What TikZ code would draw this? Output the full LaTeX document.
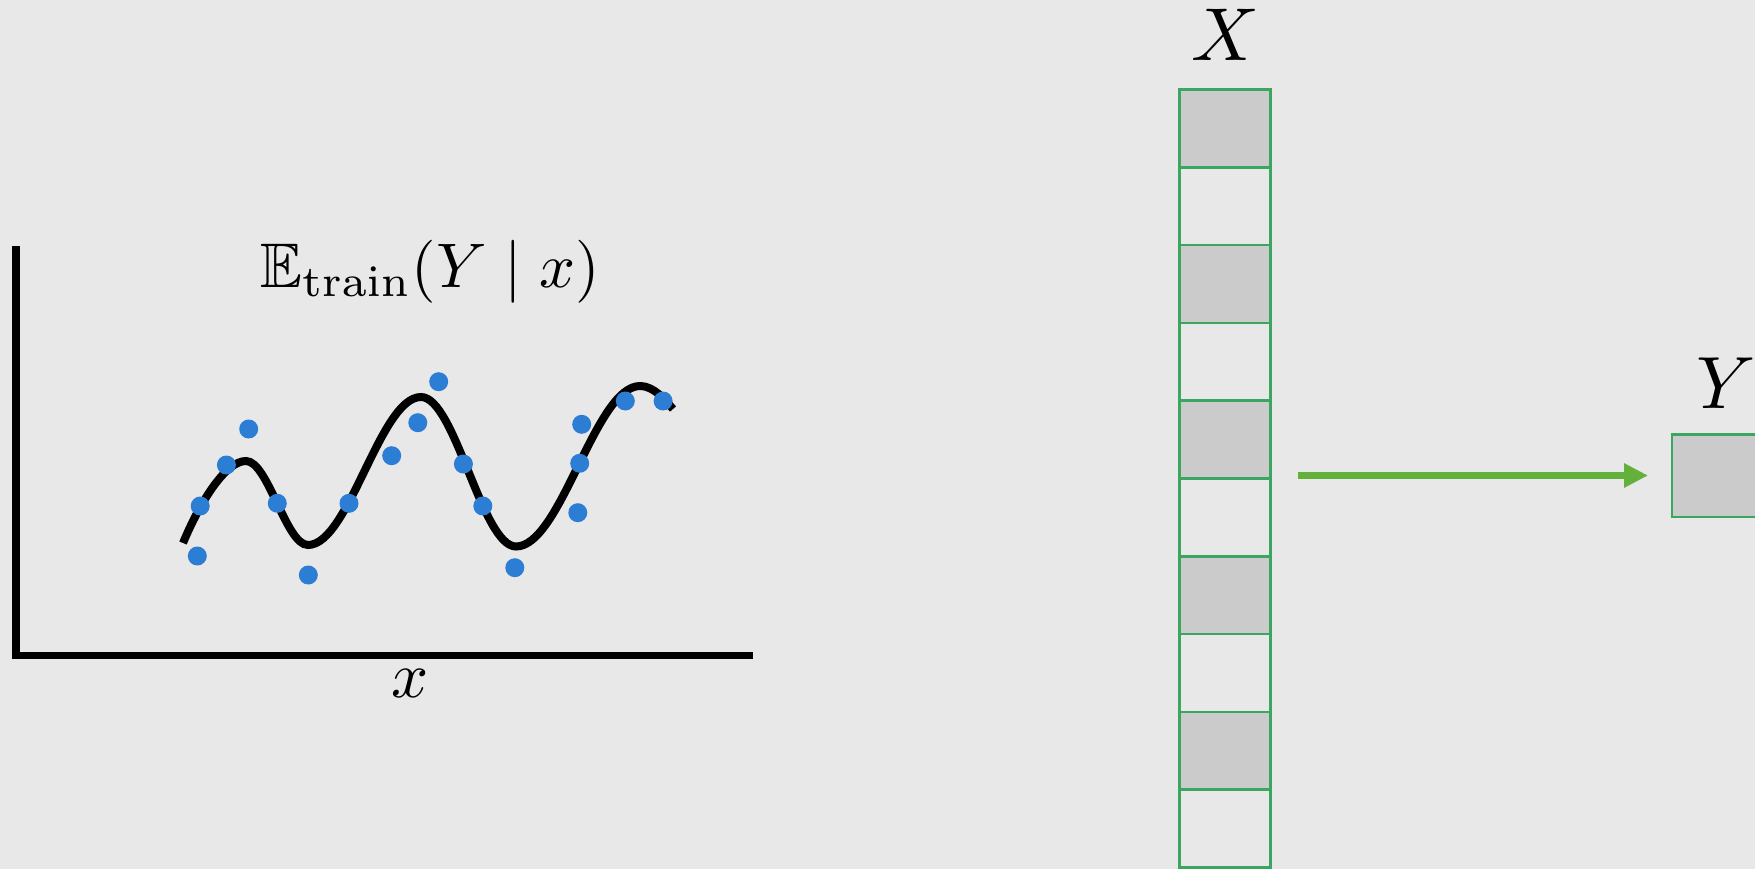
\RequirePackage{fix-cm}
\documentclass[tikz,border=0pt]{standalone}
\usepackage{amssymb}
\usepackage{graphicx}
\usetikzlibrary{arrows.meta}
\definecolor{bg}{RGB}{232,232,232}
\definecolor{cellgrey}{RGB}{203,203,203}
\definecolor{cellgreen}{RGB}{58,166,96}
\definecolor{arrowgreen}{RGB}{99,176,58}
\definecolor{dotblue}{RGB}{44,125,212}
\tikzset{
  axisline/.style={line width=7.3pt, line cap=butt},
  curveline/.style={line width=8pt, line cap=butt},
  datadot/.style={circle, fill=dotblue, inner sep=0pt, minimum size=19pt},
  cellbox/.style={draw=cellgreen, line width=2.6pt, minimum width=91pt, minimum height=77.8pt, inner sep=0pt},
  greycell/.style={cellbox, fill=cellgrey},
  whitecell/.style={cellbox},
  mathlabel/.style={anchor=base, inner sep=0pt},
  flowarrow/.style={draw=arrowgreen, line width=7.3pt, -{Triangle[length=24pt,width=23pt]}}
}
\begin{document}
\begin{tikzpicture}[x=1pt,y=-1pt]
\useasboundingbox (0,0) rectangle (1755,869);
\fill[bg] (0,0) rectangle (1755,869);
\clip (0,0) rectangle (1755,869);
% axes
\coordinate (ytop) at (16,246);
\coordinate (ybot) at (16,659);
\coordinate (xleft) at (12,655.5);
\coordinate (xend) at (753,655.5);
\draw[axisline] (ytop) -- (ybot);
\draw[axisline] (xleft) -- (xend);
\node[mathlabel] (xlab) at (410,697) {\scalebox{6.5}{$x$}};
\node[mathlabel] (title) at (430,287) {\scalebox{6.3}{$\mathbb{E}_{\mathrm{train}}(Y \mid x)$}};
% curve
\draw[curveline] (183,543) .. controls (201,500) and (226,461) .. (246,461)
  .. controls (268,461) and (286,545) .. (308,545)
  .. controls (349,545) and (380,397) .. (421,397)
  .. controls (455,397) and (482,546.5) .. (516,546.5)
  .. controls (561,546.5) and (595,386) .. (640,386)
  .. controls (654,386) and (665,400) .. (673,409);
% dots
\foreach \px/\py [count=\i] in {197.3/556, 200.2/506, 226.4/465, 248.7/429, 277.3/503.3, 308.3/575, 349/503.3, 391.7/455.7, 417.8/422.7, 438.7/381.7, 463.4/464, 482.8/506, 514.8/567.7, 577.8/512.7, 579.7/463.3, 581.7/424.3, 625.3/401, 663.1/401}
  \node[datadot] (d\i) at (\px,\py) {};
% column X
\foreach \k in {0,...,9} {
  \pgfmathsetmacro{\cy}{89.5+38.9+77.8*\k}
  \ifodd\k
    \node[whitecell] (c\k) at (1225,\cy) {};
  \else
    \node[greycell] (c\k) at (1225,\cy) {};
  \fi
}
\node[mathlabel] (xname) at (1225,61) {\scalebox{7.5}{$X$}};
% Y box
\node[greycell, minimum height=82.5pt, minimum width=110pt] (ybox) at (1727,475.75) {};
\node[mathlabel] (yname) at (1726,408) {\scalebox{7.4}{$Y$}};
% arrow
\coordinate (astart) at (1298,475.5);
\coordinate (aend) at (1648,475.5);
\draw[flowarrow] (astart) -- (aend);
\end{tikzpicture}
\end{document}
